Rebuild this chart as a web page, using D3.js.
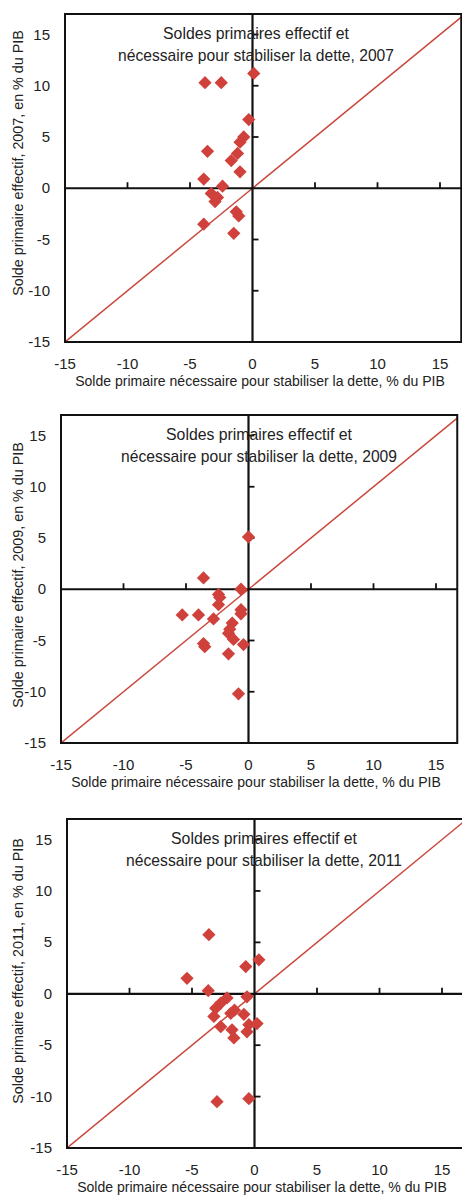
<!DOCTYPE html>
<html>
<head>
<meta charset="utf-8">
<script src="https://cdn.jsdelivr.net/npm/d3@7"></script>
<style>
  html, body { margin: 0; padding: 0; background: #fff; }
  svg { display: block; }
  text { font-family: "Liberation Sans", Arial, sans-serif; fill: #222; }
</style>
</head>
<body>
<svg id="chart" width="462" height="1196"></svg>
<script>
// ---------- data ----------
const years = ["2007", "2009", "2011"];
const xTicks = [-15, -10, -5, 0, 5, 10, 15];
const yTicks = [-15, -10, -5, 0, 5, 10, 15];
const xLabel = "Solde primaire nécessaire pour stabiliser  la dette, % du PIB";
const titleLine1 = "Soldes primaires effectif et";
const titleLine2Prefix = "nécessaire pour stabiliser la dette, ";
const yLabelPrefix = "Solde primaire effectif, ";
const yLabelSuffix = ", en % du PIB";

// 2007: needed primary balance (x) vs actual primary balance (y)
const x2007 = [-3.8, -2.5, 0.1, -0.3, -0.7, -1.0, -3.6, -1.2, -1.7, -1.0, -3.9, -2.4, -3.3, -3.0, -2.8, -1.3, -1.1, -3.9, -1.5];
const y2007 = [10.3, 10.3, 11.2, 6.7, 5.0, 4.5, 3.6, 3.4, 2.7, 1.6, 0.9, 0.2, -0.5, -1.3, -0.9, -2.3, -2.7, -3.5, -4.4];

// 2009
const x2009 = [0.0, -3.6, -0.6, -2.4, -2.3, -2.4, -0.6, -0.6, -5.3, -4.0, -2.8, -1.3, -1.5, -1.6, -1.2, -0.4, -3.6, -3.5, -1.6, -0.8];
const y2009 = [5.1, 1.1, 0.0, -0.5, -0.8, -1.5, -2.0, -2.4, -2.5, -2.5, -2.9, -3.3, -3.9, -4.3, -4.9, -5.4, -5.3, -5.6, -6.3, -10.2];

// 2011
const x2011 = [-3.65, -5.4, 0.35, -0.7, -3.7, -0.6, -2.2, -2.7, -3.1, -1.6, -1.9, -0.85, -3.25, -2.7, -1.8, 0.2, -0.45, -0.6, -1.65, -3.0, -0.45];
const y2011 = [5.75, 1.5, 3.3, 2.65, 0.3, -0.3, -0.4, -0.9, -1.4, -1.6, -1.9, -2.0, -2.2, -3.2, -3.5, -2.9, -3.0, -3.7, -4.3, -10.5, -10.2];

const seriesX = [x2007, x2009, x2011];
const seriesY = [y2007, y2009, y2011];

// ---------- layout ----------
const layout = [
  { left: 65, top: 14, height: 328, titleX: 256, yTitleY: 163 },
  { left: 61, top: 415, height: 328, titleX: 259, yTitleY: 575 },
  { left: 67, top: 819, height: 329, titleX: 264, yTitleY: 971 }
];
const unitX = 12.5;
const xMax = 16.7, yMax = 17;
const red = "#d0413c";
const lineRed = "#c9473d";

const svg = d3.select("#chart");
const defs = svg.append("defs");

// horizontally condense a text (drawn at origin) to a target width, then place it
function fitText(parent, str, size, width, cx, cy, rotate) {
  const g = parent.append("g");
  const t = g.append("text").attr("font-size", size).attr("text-anchor", "middle").text(str);
  const w = t.node().getComputedTextLength();
  const s = Math.min(1, width / w);
  g.attr("transform", `translate(${cx},${cy})` + (rotate ? ` rotate(${rotate})` : "") + ` scale(${s},1)`);
  return t;
}

years.forEach((yr, i) => {
  const L = layout[i];
  const right = L.left + (xMax + 15) * unitX;
  const bottom = L.top + L.height;
  const x = d3.scaleLinear().domain([-15, xMax]).range([L.left, right]);
  const y = d3.scaleLinear().domain([-15, yMax]).range([bottom, L.top]);

  const g = svg.append("g").attr("class", "panel-" + yr);

  defs.append("clipPath").attr("id", "clip" + i)
    .append("rect").attr("x", L.left).attr("y", L.top)
    .attr("width", right - L.left).attr("height", bottom - L.top);

  // diagonal 45° line
  g.append("line")
    .attr("clip-path", "url(#clip" + i + ")")
    .attr("x1", x(-15)).attr("y1", y(-15))
    .attr("x2", x(yMax)).attr("y2", y(yMax))
    .attr("stroke", lineRed).attr("stroke-width", 1.5);

  // zero axes
  g.append("line").attr("x1", L.left).attr("x2", right)
    .attr("y1", y(0)).attr("y2", y(0))
    .attr("stroke", "#111").attr("stroke-width", 2.2);
  g.append("line").attr("x1", x(0)).attr("x2", x(0))
    .attr("y1", L.top).attr("y2", bottom)
    .attr("stroke", "#111").attr("stroke-width", 2.2);

  // tick marks on the zero axes
  g.selectAll(".xt").data(xTicks.filter(t => t !== 0 && t !== -15)).enter()
    .append("line")
    .attr("x1", d => x(d)).attr("x2", d => x(d))
    .attr("y1", y(0)).attr("y2", y(0) - 6)
    .attr("stroke", "#111").attr("stroke-width", 1.8);
  g.selectAll(".yt").data(yTicks.filter(t => t !== 0 && t !== -15)).enter()
    .append("line")
    .attr("x1", x(0)).attr("x2", x(0) + 6)
    .attr("y1", d => y(d)).attr("y2", d => y(d))
    .attr("stroke", "#111").attr("stroke-width", 1.8);

  // frame
  g.append("rect").attr("x", L.left).attr("y", L.top)
    .attr("width", right - L.left).attr("height", bottom - L.top)
    .attr("fill", "none").attr("stroke", "#111").attr("stroke-width", 2);

  // tick labels
  g.selectAll(".xl").data(xTicks).enter().append("text")
    .attr("x", d => x(d)).attr("y", bottom + 27)
    .attr("text-anchor", "middle").attr("font-size", 15)
    .text(d => d);
  g.selectAll(".yl").data(yTicks).enter().append("text")
    .attr("x", L.left - 15).attr("y", d => y(d) + 5)
    .attr("text-anchor", "end").attr("font-size", 15)
    .text(d => d);

  // axis titles
  fitText(g, xLabel, 15, 370, L.left + 195, bottom + 44);
  fitText(g, yLabelPrefix + yr + yLabelSuffix, 15, 266, 23, L.yTitleY, -90);

  // points
  const pts = seriesX[i].map((v, k) => [v, seriesY[i][k]]);
  g.selectAll(".pt").data(pts).enter().append("path")
    .attr("d", d3.symbol(d3.symbolSquare, 88))
    .attr("transform", d => `translate(${x(d[0])},${y(d[1])}) rotate(45)`)
    .attr("fill", red);

  // chart title
  fitText(g, titleLine1, 17, 186, L.titleX, L.top + 25);
  fitText(g, titleLine2Prefix + yr, 17, 276, L.titleX, L.top + 47);
});
</script>
</body>
</html>
